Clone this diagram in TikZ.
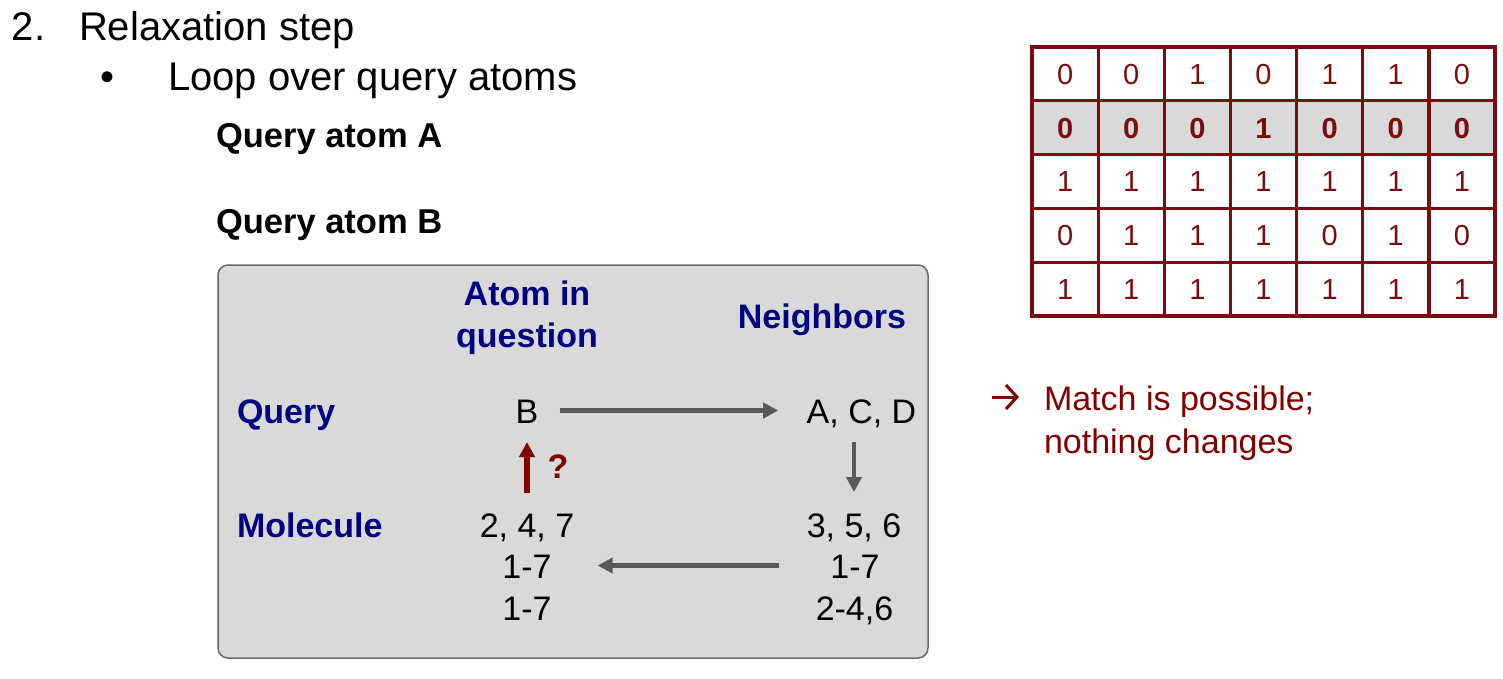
\documentclass[tikz,border=0pt]{standalone}
\usepackage{fontspec}
\setmainfont{Liberation Sans}
\usetikzlibrary{arrows.meta}
\definecolor{navy}{RGB}{0,0,128}
\definecolor{dred}{RGB}{128,0,0}
\definecolor{tred}{RGB}{122,14,14}
\definecolor{boxfill}{RGB}{217,217,217}
\definecolor{boxline}{RGB}{105,105,105}
\definecolor{arrgray}{RGB}{89,89,89}
\begin{document}
\begin{tikzpicture}[x=1pt,y=-1pt,
  every node/.style={inner sep=0pt, outer sep=0pt},
  big/.style={font=\fontsize{40}{48}\selectfont, anchor=base west},
  hdr/.style={font=\bfseries\fontsize{34.5}{41}\selectfont, anchor=base west},
  lbl/.style={font=\bfseries\fontsize{34}{42}\selectfont, text=navy},
  val/.style={font=\fontsize{34}{42}\selectfont, text height=25pt, text depth=0pt, anchor=base},
  garrow/.style={draw=arrgray, line width=4.5pt, -{Triangle[length=15pt,width=15pt]}},
  rarrow/.style={draw=dred, line width=5.5pt, -{Triangle[length=15pt,width=15pt]}},
  digit/.style={font=\fontsize{29}{35}\selectfont, text=tred, text height=20.7pt, text depth=0pt, anchor=center},
  redtxt/.style={font=\fontsize{34}{43}\selectfont, text=dred, anchor=base west},
]
\path[use as bounding box] (0,0) rectangle (1503,678);

% headings
\node[big] (num) at (12,40) {2.};
\node[big] (title) at (79,40) {Relaxation step};
\node[big] (bul) at (100,90) {•};
\node[big] (loop) at (168,90) {Loop over query atoms};
\node[hdr] (qa) at (216,147) {Query atom A};
\node[hdr] (qb) at (216,233) {Query atom B};

% grey box
\node[draw=boxline, fill=boxfill, line width=1.5pt, rounded corners=10pt,
      minimum width=710pt, minimum height=393pt] (box) at (573,461.5) {};

\node[lbl, align=center] (aiq) at (527,318) {Atom in\\question};
\node[lbl, anchor=base] (nb) at (822,328) {Neighbors};
\node[lbl, anchor=base west] (lq) at (237,423) {Query};
\node[lbl, anchor=base west] (lm) at (237,537) {Molecule};

\node[val] (qB) at (527,423) {B};
\node[val] (qN) at (861.5,423) {A, C, D};
\node[val] (m247) at (527,537) {2, 4, 7};
\node[val] (m17a) at (527,578) {1-7};
\node[val] (m17b) at (527,620) {1-7};
\node[val] (n356) at (854,537) {3, 5, 6};
\node[val] (n17) at (855,578) {1-7};
\node[val] (n246) at (854.5,620) {2-4,6};

\draw[garrow, shorten <=21.5pt, shorten >=28.5pt] (qB.east) -- (qN.west);
\draw[garrow, shorten <=19pt, shorten >=20pt] (qN.south -| n356.north) -- (n356.north);
\draw[garrow, shorten <=51pt, shorten >=46pt] (n17.west) -- (m17a.east);
\draw[rarrow, shorten <=19pt, shorten >=19pt] (m247.north) -- (qB.south);
\node[font=\bfseries\fontsize{34}{42}\selectfont, text=dred, anchor=base] (qm) at (558,478) {?};

% table
\fill[boxfill] (1032,100.8) rectangle (1495,154.6);
\foreach \row [count=\r] in {{0,0,1,0,1,1,0},{0,0,0,1,0,0,0},{1,1,1,1,1,1,1},{0,1,1,1,0,1,0},{1,1,1,1,1,1,1}} {
  \foreach \v [count=\c] in \row {
    \node[digit] (t-\r-\c) at ({1032+(\c-0.5)*66.14},{47+(\r-0.5)*53.8}) {\ifnum\r=2 \bfseries\fi\v};
  }
}
\foreach \i in {1,...,6} \draw[tred, line width=3.3pt] ({1032+\i*66.14},47) -- ({1032+\i*66.14},316);
\foreach \j in {1,...,4} \draw[tred, line width=3.3pt] (1032,{47+\j*53.8}) -- (1495,{47+\j*53.8});
\draw[tred, line width=3.3pt] (1032,47) rectangle (1495,316);

% conclusion
\coordinate (arrS) at (992,397);
\coordinate (arrE) at (1019,397);
\draw[dred, line width=3pt, -{Straight Barb[length=11pt,width=24pt,line width=3pt]}] (arrS) -- (arrE);
\node[redtxt] (m1) at (1044,410) {Match is possible;};
\node[redtxt] (m2) at (1044,453) {nothing changes};
\end{tikzpicture}
\end{document}
